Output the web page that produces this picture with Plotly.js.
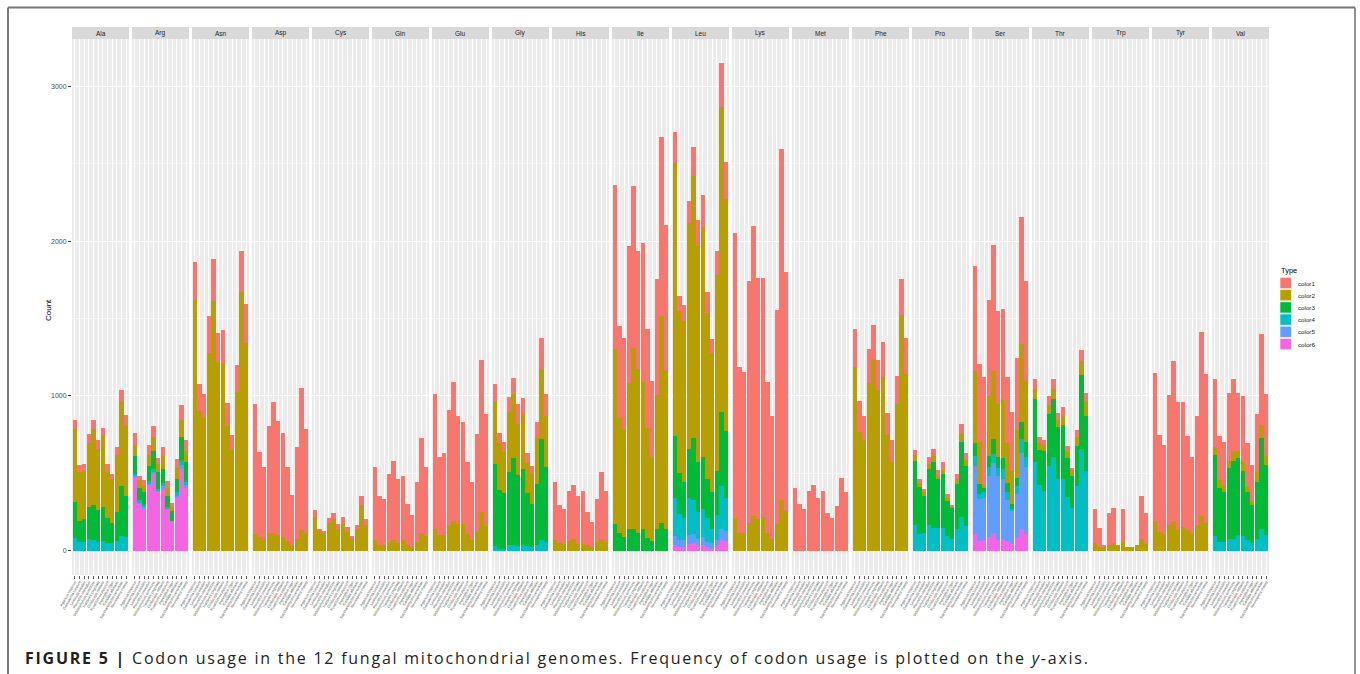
<!DOCTYPE html>
<html>
<head>
<meta charset="utf-8">
<script src="https://cdn.plot.ly/plotly-3.0.1.min.js"></script>
<style>
html,body{margin:0;padding:0;background:#fff;}
#chart{width:1360px;height:674px;}
</style>
</head>
<body>
<div id="chart"></div>
<script>
// ---- data ----
const genomes = ['Agaricus bisporus','Ganoderma lucidum','Lentinula edodes','Pleurotus ostreatus',
  'Schizophyllum commune','Trametes cingulata','Cordyceps militaris','Fusarium oxysporum',
  'Aspergillus niger','Candida albicans','Saccharomyces cerevisiae','Neurospora crassa'];
const aminoAcids = ['Ala','Arg','Asn','Asp','Cys','Gln','Glu','Gly','His','Ile','Leu','Lys','Met','Phe','Pro','Ser','Thr','Trp','Tyr','Val'];
const types = ['color1','color2','color3','color4','color5','color6'];
const typeColors = ['#F8766D','#B79F00','#00BA38','#00BFC4','#619CFF','#F564E3'];
const yTicks = [0, 1000, 2000, 3000];

const Ala = {
  color1:[58,43,43,56,58,55,54,49,32,52,71,69],
  color2:[472,318,309,416,493,397,455,301,286,371,552,451],
  color3:[231,137,150,202,223,204,219,158,131,189,322,266],
  color4:[82,56,56,77,69,56,64,52,47,60,94,90]
};
const Arg = {
  color1:[75,30,43,64,71,37,58,48,28,60,95,69],
  color2:[73,52,38,69,86,54,81,47,28,68,109,75],
  color3:[118,77,82,98,118,107,90,75,60,86,154,129],
  color4:[9,17,15,18,17,13,22,11,4,22,28,17],
  color5:[17,6,11,12,15,8,17,10,4,17,26,22],
  color6:[468,303,270,421,496,378,399,260,185,339,528,403]
};
const Asn = {
  color1:[247,172,157,240,272,189,210,150,97,174,266,251],
  color2:[1618,903,858,1275,1612,1219,1215,807,650,1026,1672,1343]
};
const Asp = {
  color1:[841,551,466,689,847,740,672,475,324,593,923,672],
  color2:[105,88,77,116,112,99,88,64,34,77,131,116]
};
const Cys = {
  color1:[43,15,20,32,34,32,43,35,17,25,58,35],
  color2:[217,127,109,178,206,142,174,120,77,142,292,167]
};
const Gln = {
  color1:[468,320,301,440,510,412,416,264,208,392,609,447],
  color2:[71,34,34,56,67,52,67,39,24,54,116,94]
};
const Glu = {
  color1:[874,508,526,751,895,697,661,466,375,631,981,723],
  color2:[137,99,103,157,193,172,172,109,67,120,249,159]
};
const Gly = {
  color1:[114,67,65,97,105,128,105,67,53,106,199,144],
  color2:[403,298,262,391,410,329,356,191,193,294,451,324],
  color3:[528,382,360,467,560,459,489,343,282,394,650,487],
  color4:[30,13,13,39,39,30,39,30,21,39,71,56]
};
const His = {
  color1:[375,240,225,326,354,311,341,212,163,279,438,330],
  color2:[67,52,45,60,73,45,45,39,24,56,73,56]
};
const Ile = {
  color1:[1056,597,591,888,1045,762,901,641,497,749,1155,944],
  color2:[1131,738,699,940,1169,1060,948,710,533,864,1339,1019],
  color3:[174,116,86,142,142,116,142,82,64,142,180,142]
};
const Leu = {
  color1:[200,97,103,144,184,171,204,136,90,155,282,238],
  color2:[1768,1047,1041,1459,1696,1395,1487,1072,897,1266,1974,1498],
  color3:[395,262,232,318,397,322,337,254,236,285,477,436],
  color4:[249,171,143,236,221,172,182,154,90,165,279,210],
  color5:[55,43,43,60,57,47,49,32,39,37,70,69],
  color6:[39,24,24,43,52,30,39,24,13,30,67,60]
};
const Lys = {
  color1:[1842,1073,1039,1567,1872,1560,1543,976,794,1382,2270,1545],
  color2:[210,116,116,178,227,202,219,116,73,172,324,253]
};
const Met = {
  color1:[403,303,270,386,427,341,386,245,212,288,472,378]
};
const Phe = {
  color1:[244,198,150,218,225,191,226,139,144,183,234,232],
  color2:[1189,768,717,1082,1236,1039,1124,749,571,946,1521,1139]
};
const Pro = {
  color1:[32,26,21,43,48,35,51,26,13,32,67,43],
  color2:[39,26,22,32,38,25,30,25,10,31,51,39],
  color3:[412,305,240,365,425,318,348,224,198,296,485,390],
  color4:[167,107,116,163,146,146,146,94,77,137,215,159]
};
const Ser = {
  color1:[680,504,697,626,813,601,590,427,382,461,822,648],
  color2:[466,269,22,382,440,341,377,257,212,313,509,393],
  color3:[81,64,25,75,99,69,69,60,33,52,107,97],
  color4:[65,32,35,54,55,51,64,48,17,47,90,68],
  color5:[440,275,276,399,451,414,387,266,210,287,489,430],
  color6:[109,60,67,86,116,71,77,64,43,82,142,109]
};
const Thr = {
  color1:[65,37,30,58,64,43,56,43,17,45,67,58],
  color2:[64,43,36,60,64,45,56,38,32,56,92,92],
  color3:[412,227,260,337,372,336,351,249,210,262,478,354],
  color4:[571,425,386,545,607,464,464,348,275,416,657,517]
};
const Trp = {
  color1:[221,122,8,201,228,4,210,5,5,5,279,197],
  color2:[49,24,26,39,49,30,56,21,21,34,77,43]
};
const Tyr = {
  color1:[961,627,576,837,1040,830,811,605,498,704,1189,966],
  color2:[189,120,109,167,185,131,150,133,107,167,223,176]
};
const Val = {
  color1:[440,281,279,435,473,371,421,277,236,378,592,406],
  color2:[47,54,39,50,57,49,58,38,22,60,86,55],
  color3:[528,347,326,455,505,494,423,311,249,369,588,451],
  color4:[92,56,56,77,77,103,94,67,47,77,137,103]
};
const counts = {Ala,Arg,Asn,Asp,Cys,Gln,Glu,Gly,His,Ile,Leu,Lys,Met,Phe,Pro,Ser,Thr,Trp,Tyr,Val};

// ---- geometry helpers (pixel -> paper) ----
const W = 1360, H = 674;
const M = {l:72, r:91, t:39, b:99};
const PW = W - M.l - M.r, PH = H - M.t - M.b;
const px = x => (x - M.l) / PW;
const py = y => (H - M.b - y) / PH;

const FONT = 'Liberation Sans, Arial, Helvetica, sans-serif';
const CAPFONT = 'Open Sans, Liberation Sans, Arial, sans-serif';
const nP = aminoAcids.length;
const step = (PW + 3) / nP;   // panel width + gap (px)
const panelW = step - 3;

const traces = [];
const layout = {
  width: W, height: H,
  margin: {l:M.l, r:M.r, t:M.t, b:M.b, pad:0},
  paper_bgcolor: '#FFFFFF',
  plot_bgcolor: '#EBEBEB',
  barmode: 'stack',
  bargap: 0.1,
  showlegend: false,
  font: {family: FONT, color: '#4D4D4D'},
  yaxis: {
    range: [-157.5, 3306],
    fixedrange: true,
    tickmode: 'array', tickvals: yTicks, ticktext: yTicks.map(String),
    ticks: 'outside', ticklen: 3, tickcolor: '#333333', tickwidth: 1,
    tickfont: {size: 7, color: '#4D4D4D', family: FONT},
    showgrid: true, gridcolor: '#FFFFFF', gridwidth: 1.1,
    minor: {dtick: 500, tick0: 0, showgrid: true, gridcolor: '#FFFFFF', gridwidth: 0.5, ticks: ''},
    zeroline: false, showline: false,
    anchor: 'x', domain: [0, 1]
  },
  shapes: [],
  annotations: []
};

aminoAcids.forEach((aa, i) => {
  const axName = i === 0 ? 'x' : 'x' + (i + 1);
  const key = i === 0 ? 'xaxis' : 'xaxis' + (i + 1);
  const x0 = M.l + i * step, x1 = x0 + panelW;
  layout[key] = {
    domain: [px(x0), px(x1)],
    anchor: 'y',
    type: 'category',
    categoryorder: 'array', categoryarray: genomes,
    range: [-0.6, genomes.length - 0.4],
    fixedrange: true,
    tickmode: 'linear', tick0: 0, dtick: 1,
    ticks: 'outside', ticklen: 2.5, tickcolor: '#333333', tickwidth: 0.8,
    tickangle: -60,
    tickfont: {size: 3.6, color: '#4D4D4D', family: FONT},
    showgrid: true, gridcolor: '#FFFFFF', gridwidth: 1,
    zeroline: false, showline: false
  };
  // stacked bars: bottom type first
  const data = counts[aa];
  for (let t = types.length - 1; t >= 0; t--) {
    const tp = types[t];
    if (!data[tp]) continue;
    traces.push({
      type: 'bar',
      x: genomes,
      y: data[tp],
      name: tp,
      xaxis: axName, yaxis: 'y',
      width: 0.9,
      marker: {color: typeColors[t], line: {width: 0}},
      hovertemplate: aa + ' %{x}<br>' + tp + ': %{y}<extra></extra>'
    });
  }
  // strip
  layout.shapes.push({
    type: 'rect', xref: 'paper', yref: 'paper',
    x0: px(x0), x1: px(x1), y0: py(39), y1: py(27),
    fillcolor: '#D9D9D9', line: {width: 0}, layer: 'below'
  });
  layout.annotations.push({
    xref: 'paper', yref: 'paper', x: px((x0 + x1) / 2), y: py(33),
    text: aa, showarrow: false, xanchor: 'center', yanchor: 'middle',
    font: {size: 6.5, color: '#1A1A1A', family: FONT}
  });
});

// y axis title
layout.annotations.push({
  xref: 'paper', yref: 'paper', x: px(48), y: py(310),
  text: 'Count', showarrow: false, textangle: -90,
  xanchor: 'center', yanchor: 'middle',
  font: {size: 8, color: '#000000', family: FONT}
});

// legend (drawn manually)
layout.annotations.push({
  xref: 'paper', yref: 'paper', x: px(1279), y: py(270),
  text: 'Type', showarrow: false, xanchor: 'left', yanchor: 'middle',
  font: {size: 7.5, color: '#000000', family: FONT}
});
types.forEach((tp, k) => {
  const cy = 283 + k * 12.2;
  layout.shapes.push({
    type: 'rect', xref: 'paper', yref: 'paper',
    x0: px(1280), x1: px(1291.5), y0: py(cy + 5.6), y1: py(cy - 5.6),
    fillcolor: typeColors[k], line: {width: 0.6, color: '#FFFFFF'}
  });
  layout.annotations.push({
    xref: 'paper', yref: 'paper', x: px(1295.5), y: py(cy),
    text: tp, showarrow: false, xanchor: 'left', yanchor: 'middle',
    font: {size: 6.2, color: '#1A1A1A', family: FONT}
  });
});

// figure frame
const frameCol = '#5a5a5a';
layout.shapes.push({type:'line', xref:'paper', yref:'paper', x0:px(8), x1:px(8), y0:py(7.5), y1:py(680), line:{color:frameCol, width:1.6}});
layout.shapes.push({type:'line', xref:'paper', yref:'paper', x0:px(8), x1:px(1355), y0:py(7.5), y1:py(7.5), line:{color:'#777777', width:2}});
layout.shapes.push({type:'line', xref:'paper', yref:'paper', x0:px(1355), x1:px(1355), y0:py(7.5), y1:py(680), line:{color:'#777777', width:1.6}});

// caption
const captionText = '<b>FIGURE 5 |</b> Codon usage in the 12 fungal mitochondrial genomes. Frequency of codon usage is plotted on the <i>y</i>-axis.';
layout.annotations.push({
  xref: 'paper', yref: 'paper', x: px(25), y: py(658),
  text: captionText,
  showarrow: false, xanchor: 'left', yanchor: 'middle',
  font: {size: 16, color: '#231F20', family: CAPFONT}
});

Plotly.newPlot('chart', traces, layout, {displayModeBar: false, staticPlot: true}).then(gd => {
  // widen the caption to the reference's line length (x 25 -> 1090 px), keeping its left edge at x 25
  const texts = gd.querySelectorAll('.annotation-text');
  let cap = null;
  texts.forEach(t => { if (t.textContent.indexOf('Codon usage') >= 0) cap = t; });
  if (cap) {
    const host = gd.getBoundingClientRect();
    const w0 = cap.getBoundingClientRect().width;
    const n = cap.textContent.length;
    const target = 1090 - 25;
    const ls = Math.max(0, (target - w0) / n);
    cap.style.letterSpacing = ls.toFixed(2) + 'px';
    const r = cap.getBoundingClientRect();
    const dx = 25 - (r.left - host.left);
    const prev = cap.getAttribute('transform') || '';
    cap.setAttribute('transform', prev + ' translate(' + dx.toFixed(2) + ',0)');
  }
});
</script>
</body>
</html>
